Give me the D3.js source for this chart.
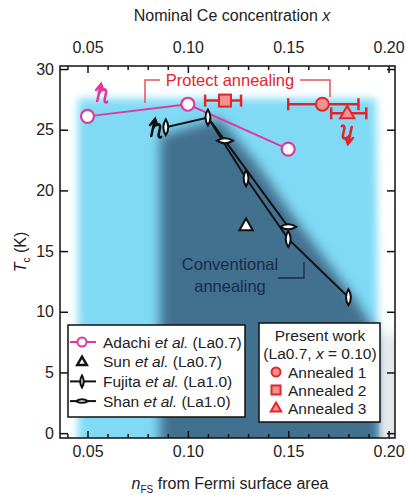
<!DOCTYPE html>
<html>
<head>
<meta charset="utf-8">
<script src="https://cdn.jsdelivr.net/npm/d3@7"></script>
<style>
  body { margin: 0; background: #fff; }
  svg text { font-family: "Liberation Sans", Arial, Helvetica, sans-serif; }
</style>
</head>
<body>
<svg id="viz" width="406" height="495"></svg>
<script>
// data
const majorTicks = [0.05, 0.10, 0.15, 0.20];
const majorTickLabels = ["0.05", "0.10", "0.15", "0.20"];
const minorTicks = [0.04, 0.06, 0.07, 0.08, 0.09, 0.11, 0.12, 0.13, 0.14, 0.16, 0.17, 0.18, 0.19];
const yTicks = [0, 5, 10, 15, 20, 25, 30];

const adachi = [[0.05, 26.1], [0.10, 27.1], [0.15, 23.4]];
const sun = [[0.129, 17.1]];
const fujita = [[0.089, 25.2], [0.110, 26.0], [0.129, 21.0], [0.150, 16.0], [0.180, 11.2]];
const shan = [[0.110, 26.0], [0.1185, 24.1], [0.150, 17.0]];

const presentNames = ["Annealed 1", "Annealed 2", "Annealed 3"];
const presentX = [0.167, 0.1185, 0.1794];
const presentLo = [0.150, 0.1086, 0.1714];
const presentHi = [0.185, 0.1265, 0.1889];
const presentTc = [27.1, 27.4, 26.35];

// shaded regions (x, Tc)
const lightRegion = [[0.0453, 27.55], [0.1938, 27.55], [0.1945, 10], [0.1945, -3], [0.0453, -3]];
const darkRegion = [[0.0861, 24.5], [0.1086, 25.6], [0.1160, 25.9], [0.1335, 22.4], [0.1559, 17.1],
                    [0.1833, 11.1], [0.1925, 8.6], [0.1955, 7.4], [0.1955, -3], [0.0861, -3]];
const greyRegion = [[0.1975, 8.2], [0.208, 8.2], [0.208, -3], [0.1975, -3]];

const svg = d3.select("#viz");
const pL = 60, pR = 395, pT = 66, pB = 438;

const x = d3.scaleLinear().domain([0.0363, 0.2032]).range([pL, pR]);
const y = d3.scaleLinear().domain([-0.4, 30.25]).range([pB, pT]);

const magenta = "#e0389f", red = "#e3252b", redFill = "#f39191", navy = "#182c4a";

// clip + blur
const defs = svg.append("defs");
defs.append("clipPath").attr("id", "frame")
    .append("rect").attr("x", pL).attr("y", pT).attr("width", pR - pL).attr("height", pB - pT);
defs.append("filter").attr("id", "soft").attr("x", "-20%").attr("y", "-20%").attr("width", "140%").attr("height", "140%")
    .append("feGaussianBlur").attr("stdDeviation", 4);
defs.append("filter").attr("id", "soft2").attr("x", "-20%").attr("y", "-20%").attr("width", "140%").attr("height", "140%")
    .append("feGaussianBlur").attr("stdDeviation", 6);

const area = d3.line().x(d => x(d[0])).y(d => y(d[1]));

const bg = svg.append("g").attr("clip-path", "url(#frame)");
bg.append("path").attr("d", area(lightRegion) + "Z").attr("fill", "#80daf6").attr("filter", "url(#soft)");
bg.append("path").attr("d", area(darkRegion) + "Z").attr("fill", "#42708f").attr("filter", "url(#soft2)");
bg.append("path").attr("d", area(greyRegion) + "Z").attr("fill", "#e4e5eb").attr("filter", "url(#soft2)");

// axes, ticks pointing inward
function tickAxis(axisFn, scale, vals, size, labels, pad) {
    return axisFn(scale).tickValues(vals).tickSize(size).tickPadding(pad)
        .tickFormat(labels ? (d, i) => labels[i] : "");
}
const axes = svg.append("g").attr("class", "axes");
axes.append("g").attr("transform", `translate(0,${pB})`)
    .call(tickAxis(d3.axisBottom, x, majorTicks, -7, majorTickLabels, 8));
axes.append("g").attr("transform", `translate(0,${pB})`)
    .call(tickAxis(d3.axisBottom, x, minorTicks, -4, null, 0));
axes.append("g").attr("transform", `translate(0,${pT})`)
    .call(tickAxis(d3.axisTop, x, majorTicks, -7, majorTickLabels, 13));
axes.append("g").attr("transform", `translate(0,${pT})`)
    .call(tickAxis(d3.axisTop, x, minorTicks, -4, null, 0));
axes.append("g").attr("transform", `translate(${pL},0)`)
    .call(tickAxis(d3.axisLeft, y, yTicks, -8, yTicks.map(String), 6));
axes.append("g").attr("transform", `translate(${pR},0)`)
    .call(tickAxis(d3.axisRight, y, yTicks, -8, null, 0));
axes.selectAll(".domain").remove();
axes.selectAll("line").attr("stroke", "#111").attr("stroke-width", 1.5);
axes.selectAll("text").attr("font-size", 16).attr("fill", "#222").attr("font-family", null);

svg.append("rect").attr("x", pL).attr("y", pT).attr("width", pR - pL).attr("height", pB - pT)
    .attr("fill", "none").attr("stroke", "#111").attr("stroke-width", 1.5);

// titles
svg.append("text").attr("x", 232).attr("y", 21).attr("text-anchor", "middle").attr("font-size", 16).attr("fill", "#222")
    .text("Nominal Ce concentration ").append("tspan").attr("font-style", "italic").text("x");
const xt = svg.append("text").attr("x", 230).attr("y", 489).attr("text-anchor", "middle").attr("font-size", 16).attr("fill", "#222");
xt.append("tspan").attr("font-style", "italic").text("n");
xt.append("tspan").attr("font-size", 10).attr("dy", 4).text("FS");
xt.append("tspan").attr("dy", -4).text(" from Fermi surface area");
const yt = svg.append("text").attr("transform", "translate(26,252) rotate(-90)").attr("text-anchor", "middle")
    .attr("font-size", 16).attr("fill", "#222");
yt.append("tspan").attr("font-style", "italic").text("T");
yt.append("tspan").attr("font-size", 10).attr("dy", 4).text("c");
yt.append("tspan").attr("dy", -4).text(" (K)");

// marker shapes
const vLens = "M0,-8 Q5,0 0,8 Q-5,0 0,-8Z";
const hLens = "M-8,0 Q0,-5 8,0 Q0,5 -8,0Z";
const tri = (s) => `M0,${-s} L${s * 0.95},${s * 0.65} L${-s * 0.95},${s * 0.65}Z`;

const plot = svg.append("g");
const line = d3.line().x(d => x(d[0])).y(d => y(d[1]));

plot.append("path").attr("d", line(shan)).attr("fill", "none").attr("stroke", "#111").attr("stroke-width", 2);
plot.append("path").attr("d", line(fujita)).attr("fill", "none").attr("stroke", "#111").attr("stroke-width", 2);
plot.append("path").attr("d", line(adachi)).attr("fill", "none").attr("stroke", magenta).attr("stroke-width", 2);

plot.selectAll(".shan").data(shan.slice(1)).enter().append("path")
    .attr("transform", d => `translate(${x(d[0])},${y(d[1])})`).attr("d", hLens)
    .attr("fill", "#fff").attr("stroke", "#111").attr("stroke-width", 2);
plot.selectAll(".fujita").data(fujita).enter().append("path")
    .attr("transform", d => `translate(${x(d[0])},${y(d[1])})`).attr("d", vLens)
    .attr("fill", "#fff").attr("stroke", "#111").attr("stroke-width", 2);
plot.selectAll(".sun").data(sun).enter().append("path")
    .attr("transform", d => `translate(${x(d[0])},${y(d[1])})`).attr("d", tri(7))
    .attr("fill", "#fff").attr("stroke", "#111").attr("stroke-width", 2);
plot.selectAll(".adachi").data(adachi).enter().append("circle")
    .attr("cx", d => x(d[0])).attr("cy", d => y(d[1])).attr("r", 6.5)
    .attr("fill", "#fff").attr("stroke", magenta).attr("stroke-width", 2.2);

// present work with error bars
const presentShapes = [
    g => g.append("circle").attr("r", 6.5),
    g => g.append("rect").attr("x", -6).attr("y", -6).attr("width", 12).attr("height", 12),
    g => g.append("path").attr("d", tri(7.5))
];
presentNames.forEach((n, i) => {
    const cy = y(presentTc[i]);
    const eb = plot.append("g").attr("stroke", red).attr("stroke-width", 2.5);
    eb.append("line").attr("x1", x(presentLo[i])).attr("x2", x(presentHi[i])).attr("y1", cy).attr("y2", cy);
    [presentLo[i], presentHi[i]].forEach(v =>
        eb.append("line").attr("x1", x(v)).attr("x2", x(v)).attr("y1", cy - 6).attr("y2", cy + 6));
    const g = plot.append("g").attr("transform", `translate(${x(presentX[i])},${cy})`);
    presentShapes[i](g).attr("fill", redFill).attr("stroke", red).attr("stroke-width", 2);
});

// little curly arrows
function curl(cx, cy, col, rot) {
    plot.append("path").attr("transform", `translate(${cx},${cy}) rotate(${rot}) skewX(-12)`)
        .attr("d", "M-3,8 L-3,-5 M-6.5,-3 L-3,-9 L0.5,-3 M-3,1 C-2,-5 4,-5 4,0 L4,6 C4,9 6,10 7,9")
        .attr("fill", "none").attr("stroke", col).attr("stroke-width", 2.6).attr("stroke-linecap", "round");
}
curl(102, 93, magenta, 0);
curl(156, 128, "#111", 0);
curl(347, 135, red, 180);

// annotations
const pa = svg.append("g");
pa.append("path").attr("d", "M145,103 V80 H160 M300,80 H330 V97").attr("fill", "none")
    .attr("stroke", "#e0555b").attr("stroke-width", 1.5);
pa.append("text").attr("x", 230).attr("y", 86).attr("text-anchor", "middle").attr("font-size", 16.5)
    .attr("fill", red).text("Protect annealing");

const ca = svg.append("g");
ca.append("text").attr("x", 230).attr("y", 270).attr("text-anchor", "middle").attr("font-size", 16.5)
    .attr("fill", navy).text("Conventional");
ca.append("text").attr("x", 230).attr("y", 292).attr("text-anchor", "middle").attr("font-size", 16.5)
    .attr("fill", navy).text("annealing");
ca.append("path").attr("d", "M304,262 V278 H278").attr("fill", "none").attr("stroke", navy).attr("stroke-width", 1.3);

// legend left
const legL = svg.append("g");
legL.append("rect").attr("x", 68).attr("y", 325).attr("width", 177).attr("height", 92)
    .attr("fill", "#fff").attr("stroke", "#111").attr("stroke-width", 1.5);
const legNames = ["Adachi", "Sun", "Fujita", "Shan"];
const legTail = [" (La0.7)", " (La0.7)", " (La1.0)", " (La1.0)"];
legNames.forEach((n, i) => {
    const ly = 342 + i * 19.7;
    const col = i === 0 ? magenta : "#111";
    if (i !== 1) legL.append("line").attr("x1", 70).attr("x2", 96).attr("y1", ly).attr("y2", ly)
        .attr("stroke", col).attr("stroke-width", 2);
    const m = legL.append("g").attr("transform", `translate(82,${ly})`);
    if (i === 0) m.append("circle").attr("r", 4.5).attr("fill", "#fff").attr("stroke", col).attr("stroke-width", 2);
    if (i === 1) m.append("path").attr("d", tri(5)).attr("fill", "#fff").attr("stroke", col).attr("stroke-width", 2.5);
    if (i === 2) m.append("path").attr("d", "M0,-6 Q3.5,0 0,6 Q-3.5,0 0,-6Z").attr("fill", "#fff").attr("stroke", col).attr("stroke-width", 2);
    if (i === 3) m.append("path").attr("d", "M-6,0 Q0,-3.5 6,0 Q0,3.5 -6,0Z").attr("fill", "#fff").attr("stroke", col).attr("stroke-width", 2);
    const t = legL.append("text").attr("x", 103).attr("y", ly + 5.5).attr("font-size", 15.5).attr("fill", "#222");
    t.append("tspan").text(n + " ");
    t.append("tspan").attr("font-style", "italic").text("et al.");
    t.append("tspan").text(legTail[i]);
});

// legend right
const legR = svg.append("g");
legR.append("rect").attr("x", 259).attr("y", 323).attr("width", 121).attr("height", 99)
    .attr("fill", "#fff").attr("stroke", "#111").attr("stroke-width", 1.5);
legR.append("text").attr("x", 320).attr("y", 341).attr("text-anchor", "middle").attr("font-size", 15.5)
    .attr("fill", "#222").text("Present work");
const sub = legR.append("text").attr("x", 320).attr("y", 359).attr("text-anchor", "middle").attr("font-size", 15.5).attr("fill", "#222");
sub.append("tspan").text("(La0.7, ");
sub.append("tspan").attr("font-style", "italic").text("x");
sub.append("tspan").text(" = 0.10)");
const legShapes = [
    g => g.append("circle").attr("r", 4.5),
    g => g.append("rect").attr("x", -4.5).attr("y", -4.5).attr("width", 9).attr("height", 9),
    g => g.append("path").attr("d", tri(5.5))
];
presentNames.forEach((n, i) => {
    const ly = 372 + i * 18;
    const g = legR.append("g").attr("transform", `translate(276,${ly})`);
    legShapes[i](g).attr("fill", redFill).attr("stroke", red).attr("stroke-width", 2);
    legR.append("text").attr("x", 288).attr("y", ly + 5.5).attr("font-size", 15.5).attr("fill", "#222").text(n);
});
</script>
</body>
</html>
